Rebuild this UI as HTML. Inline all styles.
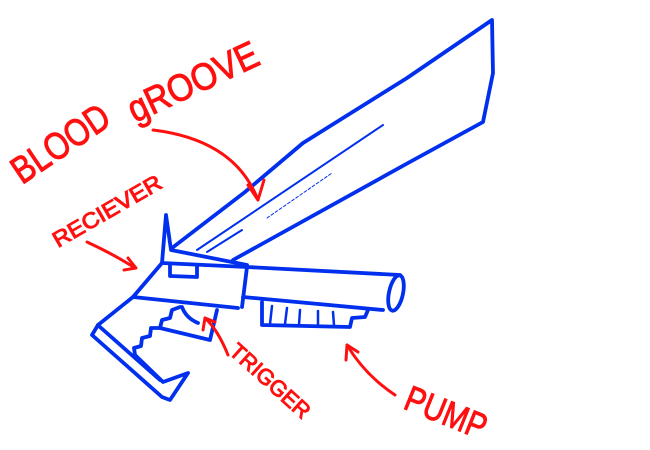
<!DOCTYPE html>
<html><head><style>
html,body{margin:0;padding:0;background:#fff;width:650px;height:450px;overflow:hidden}
text{font-family:"Liberation Sans",sans-serif;fill:#ff1010;stroke:#ff1010;stroke-width:1}
</style></head><body>
<svg width="650" height="450" viewBox="0 0 650 450" xmlns="http://www.w3.org/2000/svg">
<g fill="none" stroke="#0030ee" stroke-width="3.8" stroke-linecap="round" stroke-linejoin="round">
<path d="M172,248 L245,192 L303,143 L407,78 L492,20 L493,73 L483,122 L408,163 L233,260"/>
<path d="M197,250 L383,125" stroke-width="2"/>
<path d="M207,252 L242,230" stroke-width="2"/>
<path d="M267,218 L332,173" stroke-width="1" stroke-dasharray="3,2"/>
<path d="M166,215 L162,263 M166,215 L171,250 L247,265"/>
<path d="M162,263 L247,267 L400,275"/>
<path d="M162,263 L133,297 L98,325"/>
<path d="M247,267 L242,307"/>
<path d="M133,297 L238,308"/>
<path d="M170,265 L170,276 L197,277 L197,266"/>
<path d="M243,297 L383,310"/>
<ellipse cx="396" cy="293" rx="7" ry="18" transform="rotate(12 396 293)"/>
<path d="M98,325 L92,335 L162,397 L170,400 L188,373 L163,382 L135,355"/>
<path d="M100,327 L160,380"/>
<path d="M135,355 L134,348 L141,346 L142,338 L150,336 L151,328 L160,328 L162,320 L170,318 L172,310 L180,307"/>
<path d="M160,328 L210,340 L217,310"/>
<path d="M182,307 Q186,318 198,323"/>
<path d="M262,302 L262,325 L350,327 L352,318 L365,317 L368,310"/>
<path d="M272,306 L270,324 M287,308 L285,324 M300,310 L299,325 M318,311 L318,325 M333,312 L334,325" stroke-width="2.5"/>
</g>
<g fill="none" stroke="#ff1010" stroke-width="3" stroke-linecap="round" stroke-linejoin="round">
<path d="M153,130 Q235,140 258,200"/>
<path d="M248,185 L258,200 L264,180"/>
<path d="M87,242 Q115,255 135,268"/>
<path d="M128,258 L136,268 L124,270"/>
<path d="M228,355 Q218,330 205,318"/>
<path d="M203,330 L205,318 L215,322"/>
<path d="M395,395 Q365,375 347,345"/>
<path d="M346,360 L347,345 L358,352"/>
</g>
<text font-size="38" textLength="110" lengthAdjust="spacingAndGlyphs" transform="translate(22,185) rotate(-34)">BLOOD</text>
<text font-size="38" textLength="140" lengthAdjust="spacingAndGlyphs" transform="translate(135,123) rotate(-25)">gROOVE</text>
<text font-size="22" textLength="122" lengthAdjust="spacingAndGlyphs" transform="translate(58,248) rotate(-30)">RECIEVER</text>
<text font-size="22" textLength="100" lengthAdjust="spacingAndGlyphs" transform="translate(228,353) rotate(42)">TRIGGER</text>
<text font-size="36" textLength="85" lengthAdjust="spacingAndGlyphs" transform="translate(402,408) rotate(22)">PUMP</text>
</svg>
</body></html>
